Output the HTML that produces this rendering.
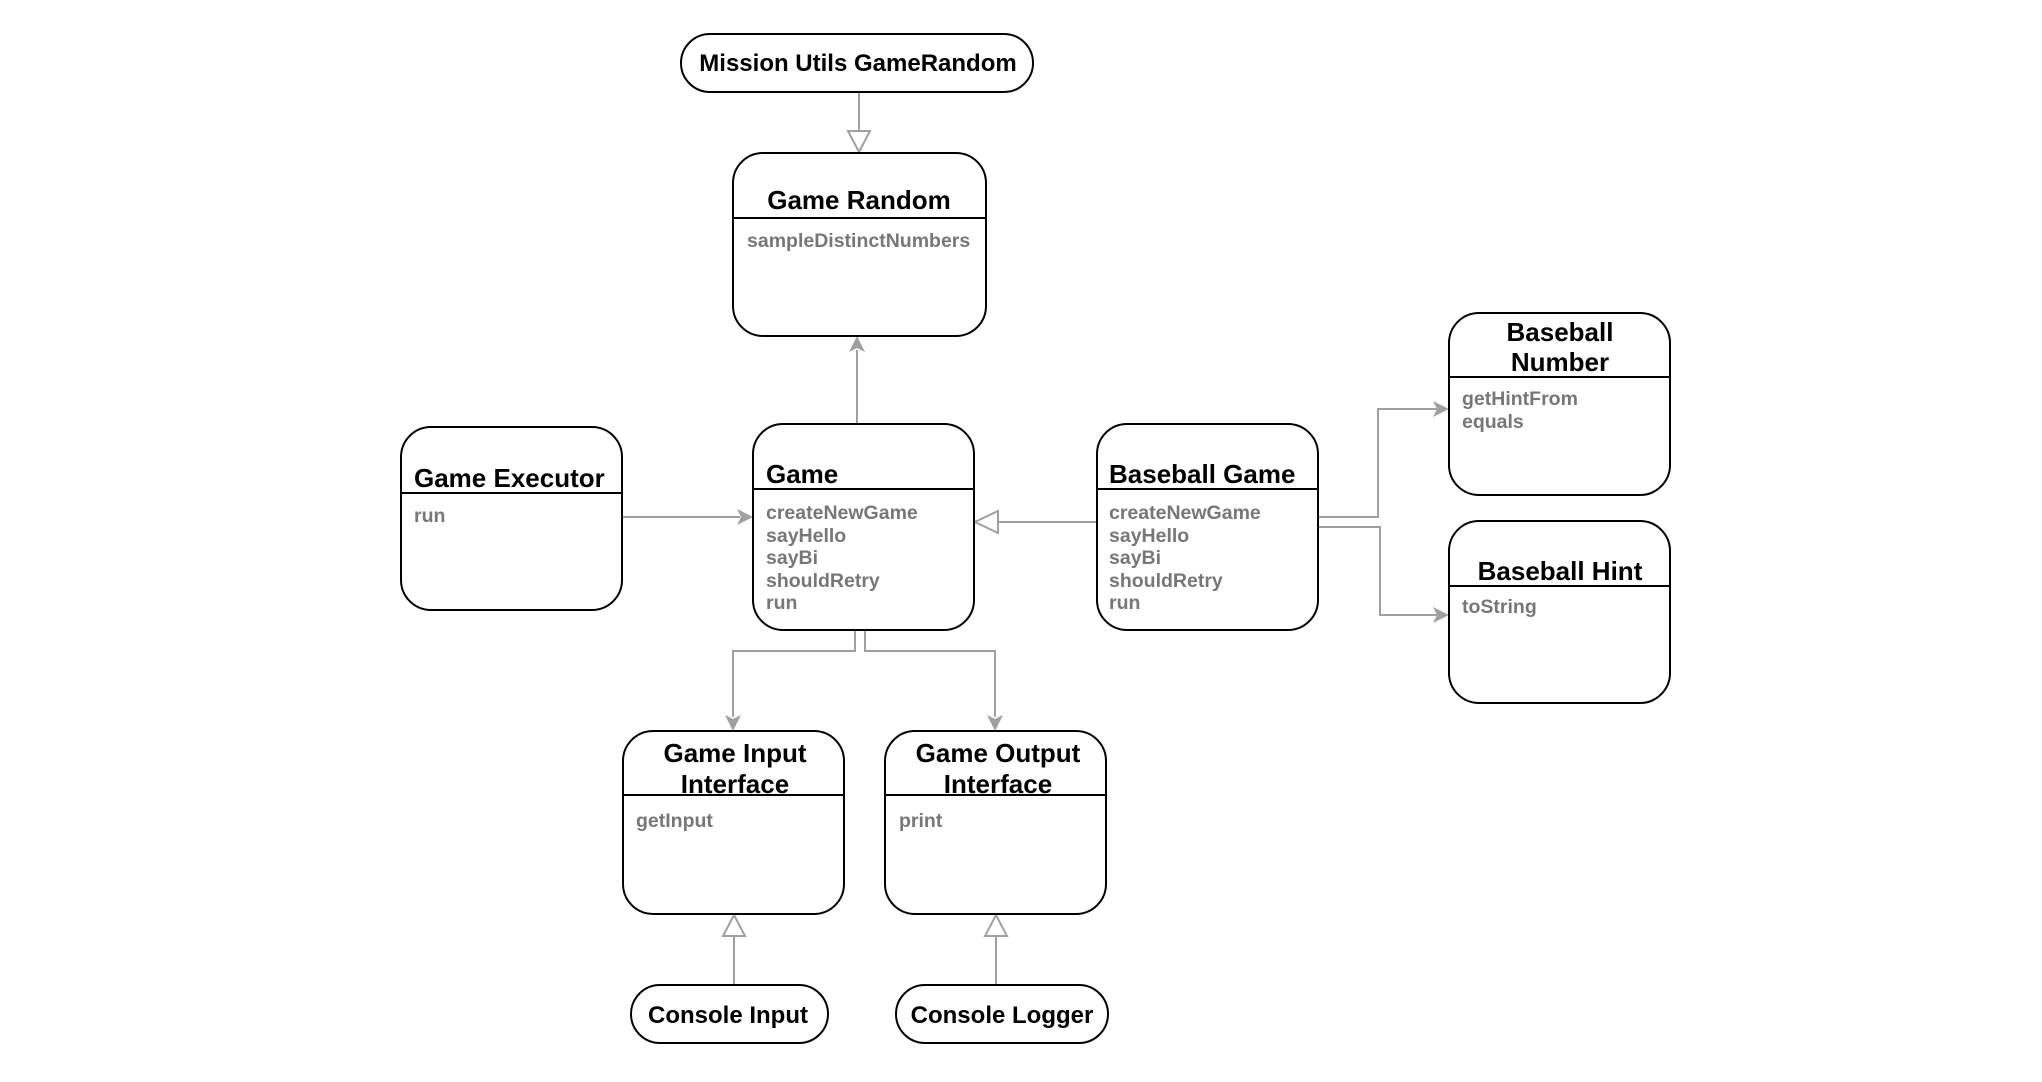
<!DOCTYPE html>
<html><head><meta charset="utf-8"><style>
html,body{margin:0;padding:0;background:#fff;}
svg{display:block;}
text{font-family:"Liberation Sans","DejaVu Sans",sans-serif;font-weight:bold;}
.t{font-size:26px;fill:#000;}
.p{font-size:24px;fill:#000;}
.m{font-size:19.5px;fill:#777;}
.b{fill:#fff;stroke:#000;stroke-width:2;}
.c{fill:none;stroke:#a0a0a0;stroke-width:2;}
.h{fill:#fff;stroke:#a0a0a0;stroke-width:2;}
.f{fill:#a0a0a0;stroke:none;}
</style></head><body>
<svg width="2042" height="1082" viewBox="0 0 2042 1082" xmlns="http://www.w3.org/2000/svg">
<line class="c" x1="859" y1="92" x2="859" y2="131"/>
<polygon class="h" points="848,131 870,131 859,152"/>
<line class="c" x1="857" y1="424" x2="857" y2="350"/>
<polygon class="f" points="857,336 849,352 857,348 865,352"/>
<line class="c" x1="622" y1="517" x2="740" y2="517"/>
<polygon class="f" points="753,517 737,509 741,517 737,525"/>
<line class="c" x1="1097" y1="522" x2="998" y2="522"/>
<polygon class="h" points="998,511 998,533 975,522"/>
<polyline class="c" points="1318,517 1378,517 1378,409 1437,409"/>
<polygon class="f" points="1449,409 1433,401 1437,409 1433,417"/>
<polyline class="c" points="1318,527 1380,527 1380,615 1437,615"/>
<polygon class="f" points="1449,615 1433,607 1437,615 1433,623"/>
<polyline class="c" points="855,630 855,651 733,651 733,717"/>
<polygon class="f" points="733,731 725,715 733,719 741,715"/>
<polyline class="c" points="865,630 865,651 995,651 995,717"/>
<polygon class="f" points="995,731 987,715 995,719 1003,715"/>
<line class="c" x1="734" y1="984" x2="734" y2="936"/>
<polygon class="h" points="723,936 745,936 734,915"/>
<line class="c" x1="996" y1="984" x2="996" y2="936"/>
<polygon class="h" points="985,936 1007,936 996,915"/>

<rect class="b" x="681" y="34" width="352" height="58" rx="29"/>
<text class="p" x="858" y="71" text-anchor="middle">Mission Utils GameRandom</text>

<rect class="b" x="733" y="153" width="253" height="183" rx="30"/>
<line x1="733" y1="218" x2="986" y2="218" stroke="#000" stroke-width="2"/>
<text class="t" x="859" y="209" text-anchor="middle">Game Random</text>
<text class="m" x="747" y="247">sampleDistinctNumbers</text>

<rect class="b" x="401" y="427" width="221" height="183" rx="30"/>
<line x1="401" y1="493" x2="622" y2="493" stroke="#000" stroke-width="2"/>
<text class="t" x="414" y="487">Game Executor</text>
<text class="m" x="414" y="522">run</text>

<rect class="b" x="753" y="424" width="221" height="206" rx="30"/>
<line x1="753" y1="489" x2="974" y2="489" stroke="#000" stroke-width="2"/>
<text class="t" x="766" y="483">Game</text>
<text class="m" x="766" y="519">createNewGame</text>
<text class="m" x="766" y="542">sayHello</text>
<text class="m" x="766" y="564">sayBi</text>
<text class="m" x="766" y="587">shouldRetry</text>
<text class="m" x="766" y="609">run</text>

<rect class="b" x="1097" y="424" width="221" height="206" rx="30"/>
<line x1="1097" y1="489" x2="1318" y2="489" stroke="#000" stroke-width="2"/>
<text class="t" x="1109" y="483">Baseball Game</text>
<text class="m" x="1109" y="519">createNewGame</text>
<text class="m" x="1109" y="542">sayHello</text>
<text class="m" x="1109" y="564">sayBi</text>
<text class="m" x="1109" y="587">shouldRetry</text>
<text class="m" x="1109" y="609">run</text>

<rect class="b" x="1449" y="313" width="221" height="182" rx="30"/>
<line x1="1449" y1="377" x2="1670" y2="377" stroke="#000" stroke-width="2"/>
<text class="t" x="1560" y="341" text-anchor="middle">Baseball</text>
<text class="t" x="1560" y="371" text-anchor="middle">Number</text>
<text class="m" x="1462" y="405">getHintFrom</text>
<text class="m" x="1462" y="428">equals</text>

<rect class="b" x="1449" y="521" width="221" height="182" rx="30"/>
<line x1="1449" y1="586" x2="1670" y2="586" stroke="#000" stroke-width="2"/>
<text class="t" x="1560" y="580" text-anchor="middle">Baseball Hint</text>
<text class="m" x="1462" y="613">toString</text>

<rect class="b" x="623" y="731" width="221" height="183" rx="30"/>
<line x1="623" y1="795" x2="844" y2="795" stroke="#000" stroke-width="2"/>
<text class="t" x="735" y="762" text-anchor="middle">Game Input</text>
<text class="t" x="735" y="793" text-anchor="middle">Interface</text>
<text class="m" x="636" y="827">getInput</text>

<rect class="b" x="885" y="731" width="221" height="183" rx="30"/>
<line x1="885" y1="795" x2="1106" y2="795" stroke="#000" stroke-width="2"/>
<text class="t" x="998" y="762" text-anchor="middle">Game Output</text>
<text class="t" x="998" y="793" text-anchor="middle">Interface</text>
<text class="m" x="899" y="827">print</text>

<rect class="b" x="631" y="985" width="197" height="58" rx="29"/>
<text class="p" x="728" y="1023" text-anchor="middle">Console Input</text>

<rect class="b" x="896" y="985" width="212" height="58" rx="29"/>
<text class="p" x="1002" y="1023" text-anchor="middle">Console Logger</text>
</svg>
</body></html>
